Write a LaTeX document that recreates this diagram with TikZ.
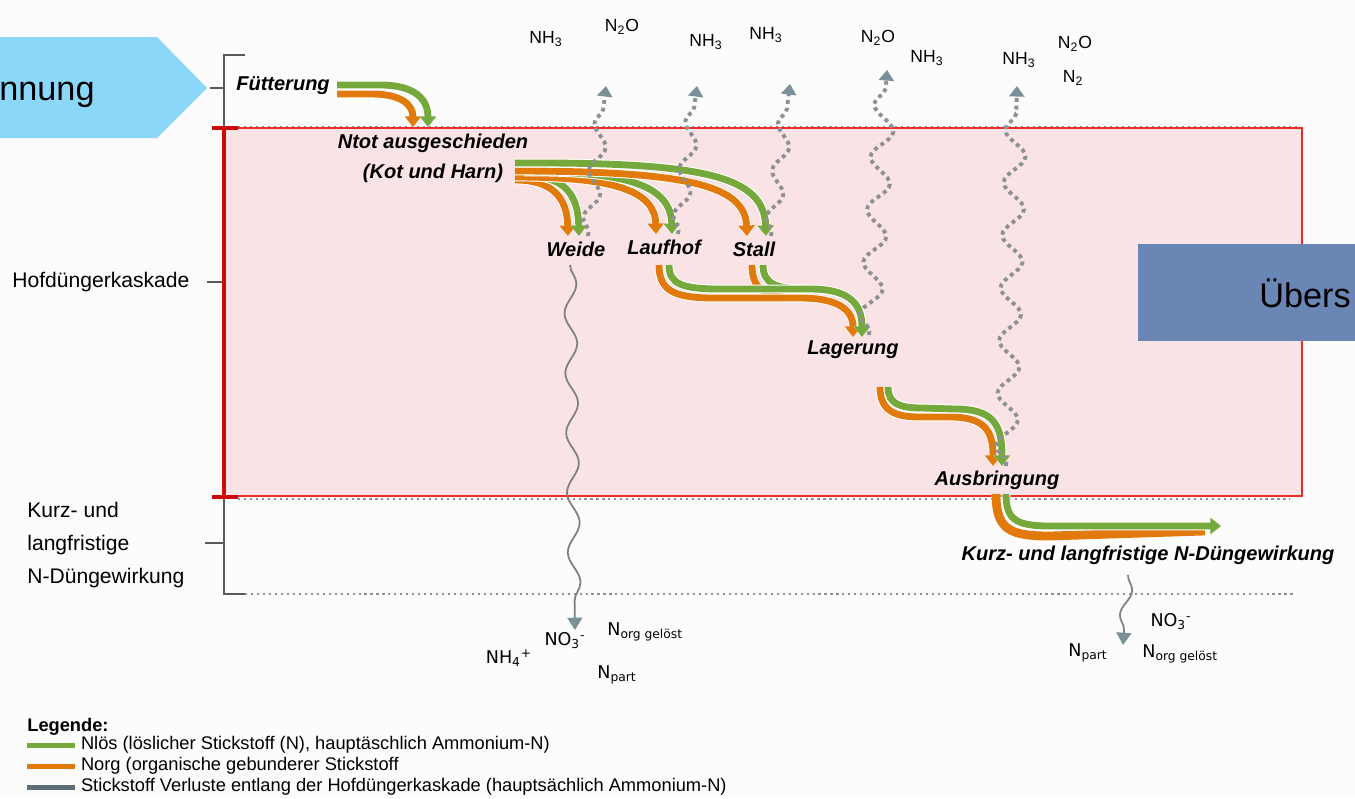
\documentclass[tikz,border=0pt]{standalone}
\usepackage{fontspec}
\setmainfont{Liberation Sans}
\newfontfamily\soilfont{DejaVu Sans}
\usetikzlibrary{positioning,arrows.meta,decorations.pathmorphing}
\definecolor{nloes}{HTML}{76A93B}
\definecolor{norg}{HTML}{E17A0A}
\definecolor{lossdot}{HTML}{8E9194}
\definecolor{losstip}{HTML}{7A9097}
\definecolor{legendgrey}{HTML}{5E6E76}
\definecolor{cascadefill}{HTML}{F9E3E5}
\definecolor{cascadeline}{HTML}{EE2B2B}
\definecolor{bracketred}{HTML}{CC0A0A}
\definecolor{skyblue}{HTML}{8BD7FA}
\definecolor{slateblue}{HTML}{6A86B4}
\definecolor{paper}{HTML}{FCFCFC}
\definecolor{rulegrey}{HTML}{5A5A5A}

\begin{document}
\begin{tikzpicture}[x=0.02cm, y=-0.02cm,
    stage/.style={font=\fontsize{11.4}{17}\selectfont\bfseries\itshape, align=center, inner sep=0pt},
    side/.style={font=\fontsize{12}{18.7}\selectfont, align=left, inner sep=0pt},
    gas/.style={font=\fontsize{10}{12}\selectfont, inner sep=0pt},
    soil/.style={font=\soilfont\fontsize{10}{12}\selectfont, inner sep=0pt},
    legtext/.style={font=\fontsize{10.4}{12}\selectfont, inner sep=0pt, anchor=west},
    keybar/.style={minimum width=0.96cm, minimum height=0.1cm, inner sep=0pt},
    strand/.style={line width=3.9pt, preaction={draw=white, line width=5pt}},
    gflow/.style={strand, draw=nloes, -{Triangle[length=6pt,width=9pt]}},
    oflow/.style={strand, draw=norg, -{Triangle[length=6pt,width=9pt]}},
    gtrack/.style={strand, draw=nloes},
    otrack/.style={strand, draw=norg},
    loss/.style={draw=lossdot, line width=2.2pt, dash pattern=on 2.2pt off 2.2pt,
      decorate, decoration={snake, amplitude=4pt, segment length=27pt, pre length=2pt, post length=7pt},
      -{Triangle[length=6pt,width=8.5pt,color=losstip]}},
    leach/.style={draw=gray, line width=1pt, decorate,
      decoration={snake, amplitude=3.5pt, segment length=34pt, post length=9pt},
      -{Triangle[length=7pt,width=8.5pt,color=losstip]}}
  ]
  \clip (0,0) rectangle (1355,798);
  \fill[paper] (0,0) rectangle (1355,798);

  % left and right tabs
  \fill[skyblue] (-10,37) -- (157,37) -- (207,88) -- (157,138) -- (-10,138) -- cycle;
  \node[anchor=base west, font=\fontsize{19.5}{22}\selectfont, inner sep=0pt] (plan) at (-1,100) {nnung};

  % grey bracket and dotted levels
  \draw[rulegrey, line width=0.8pt] (245,55) -- (224,55) -- (224,594) -- (245,594);
  \draw[rulegrey, line width=0.8pt] (210,88) -- (224,88);
  \draw[rulegrey, line width=0.8pt] (207,282) -- (224,282);
  \draw[rulegrey, line width=0.8pt] (205,543) -- (224,543);
  \draw[lossdot, line width=0.9pt, dash pattern=on 1.2pt off 2.2pt] (238,127) -- (1300,127);
  \draw[lossdot, line width=0.9pt, dash pattern=on 1.2pt off 2.2pt] (238,499) -- (1290,499);
  \draw[lossdot, line width=0.9pt, dash pattern=on 1.2pt off 2.2pt] (245,594) -- (1295,594);

  % cascade box
  \filldraw[fill=cascadefill, draw=cascadeline, line width=0.8pt] (224,128) rectangle (1302,496);
  \draw[bracketred, line width=2pt] (224,128) -- (224,497);
  \draw[bracketred, line width=2pt] (212,128) -- (238,128);
  \draw[bracketred, line width=2pt] (212,497) -- (238,497);

  \fill[slateblue] (1138,244) rectangle (1365,341);
  \node[anchor=base west, font=\fontsize{19.5}{22}\selectfont, inner sep=0pt] (uebers) at (1259,307) {Übers};

  % side labels
  \node[side, anchor=west] (cascade) at (12,282) {Hofdüngerkaskade};
  \node[side, anchor=west] (effect) at (27,545) {Kurz- und\\langfristige\\N-Düngewirkung};

  % stages
  \node[stage] (fuetter) at (283,86) {Fütterung};
  \node[stage] (ntot) at (433,158) {Ntot ausgeschieden\\(Kot und Harn)};
  \node[stage] (weide) at (576,249) {Weide};
  \node[stage] (laufhof) at (664,247) {Laufhof};
  \node[stage] (stall) at (754,249) {Stall};
  \node[stage] (lager) at (853,350) {Lagerung};
  \node[stage] (ausbr) at (997,480) {Ausbringung};
  \node[stage] (wirkung) at (1148,555) {Kurz- und langfristige N-Düngewirkung};

  % gases
  \node[gas] (g1) at (546,39) {NH\textsubscript{3}};
  \node[gas] (g2) at (622,27) {N\textsubscript{2}O};
  \node[gas] (g3) at (706,42) {NH\textsubscript{3}};
  \node[gas] (g4) at (766,35) {NH\textsubscript{3}};
  \node[gas] (g5) at (878,38) {N\textsubscript{2}O};
  \node[gas] (g6) at (927,58) {NH\textsubscript{3}};
  \node[gas] (g7) at (1019,60) {NH\textsubscript{3}};
  \node[gas] (g8) at (1075,44) {N\textsubscript{2}O};
  \node[gas] (g9) at (1073,78) {N\textsubscript{2}};

  % leached forms
  \node[soil] (s1) at (509,658) {NH\textsubscript{4}\textsuperscript{+}};
  \node[soil] (s2) at (565,641) {NO\textsubscript{3}\textsuperscript{-}};
  \node[soil, anchor=west] (s3) at (607,632) {N\textsubscript{org gelöst}};
  \node[soil, anchor=west] (s4) at (597,675) {N\textsubscript{part}};
  \node[soil] (s5) at (1171,622) {NO\textsubscript{3}\textsuperscript{-}};
  \node[soil, anchor=west] (s6) at (1068,653) {N\textsubscript{part}};
  \node[soil, anchor=west] (s7) at (1142,654) {N\textsubscript{org gelöst}};

  % flow end points
  \coordinate (fo0) at (337,94);  \coordinate (fo1) at (413,127);
  \coordinate (fg0) at (337,85);  \coordinate (fg1) at (428,127);
  \coordinate (wo1) at (568,236); \coordinate (wg1) at (579,236);
  \coordinate (lo1) at (656,234); \coordinate (lg1) at (672,234);
  \coordinate (so1) at (747,236); \coordinate (sg1) at (766,236);
  \coordinate (ao1) at (853,337); \coordinate (ag1) at (862,337);
  \coordinate (bo1) at (993,466); \coordinate (bg1) at (1002,466);
  \coordinate (kg1) at (1221,526);

  % Fuetterung -> Ntot
  \draw[oflow] (fo0) -- (372,94) .. controls (400,94) and (413,104) .. (fo1);
  \draw[gflow] (fg0) -- (380,85) .. controls (416,85) and (428,100) .. (fg1);

  % Ntot -> Weide, Laufhof, Stall
  \draw[oflow] (515,180) .. controls (552,180) and (567,197) .. (wo1);
  \draw[gflow] (526,176) .. controls (564,176) and (578,194) .. (wg1);
  \draw[oflow] (515,177) .. controls (615,177) and (655,191) .. (lo1);
  \draw[gflow] (524,172) .. controls (628,171) and (671,186) .. (lg1);
  \draw[oflow] (515,171) .. controls (690,171) and (745,186) .. (so1);
  \draw[gflow] (515,163) .. controls (705,162) and (764,176) .. (sg1);

  % Laufhof, Stall -> Lagerung
  \draw[otrack] (752,265) .. controls (752,287) and (762,297) .. (795,298);
  \draw[gtrack] (763,265) .. controls (763,283) and (775,289) .. (805,289);
  \draw[oflow] (659,265) .. controls (659,292) and (676,298) .. (715,298) -- (800,298)
    .. controls (840,298) and (853,311) .. (ao1);
  \draw[gflow] (669,265) .. controls (669,284) and (682,289) .. (720,289) -- (810,289)
    .. controls (851,289) and (862,305) .. (ag1);

  % Lagerung -> Ausbringung
  \draw[oflow] (880,387) .. controls (880,411) and (895,417) .. (920,417) -- (950,417)
    .. controls (985,417) and (993,431) .. (bo1);
  \draw[gflow] (888,387) .. controls (888,404) and (900,408) .. (922,408) -- (955,409)
    .. controls (994,409) and (1002,425) .. (bg1);

  % Ausbringung -> Wirkung
  \draw[otrack, line width=5pt] (996,494) .. controls (996,530) and (1010,536) .. (1050,536) -- (1205,531);
  \draw[gflow] (1006,494) .. controls (1006,519) and (1015,526) .. (1050,526) -- (kg1);

  % gaseous losses
  \draw[loss] (588,236) -- (606,86);
  \draw[loss] (678,234) -- (697,86);
  \draw[loss] (771,236) -- (790,84);
  \draw[loss, decoration={amplitude=6pt, segment length=30pt}] (869,335) -- (887,70);
  \draw[loss, decoration={amplitude=6pt, segment length=30pt}] (1006,466) -- (1017,86);

  % leaching
  \draw[leach] (570,265) -- (575,630);
  \draw[leach, decoration={amplitude=3pt, segment length=28pt, post length=8pt}] (1128,575) -- (1123,645);

  % legend
  \node[anchor=west, font=\fontsize{10.4}{12}\selectfont\bfseries, inner sep=0pt] (legtitle) at (27,727) {Legende:};
  \node[keybar, fill=nloes, anchor=west] (keyg) at (27,745) {};
  \node[keybar, fill=norg, anchor=west] (keyo) at (27,766) {};
  \node[keybar, fill=legendgrey, anchor=west] (keyl) at (27,787) {};
  \node[legtext, right=0.1cm of keyg] (legg) {Nlös (löslicher Stickstoff (N), hauptäschlich Ammonium-N)};
  \node[legtext, right=0.1cm of keyo] (lego) {Norg (organische gebunderer Stickstoff};
  \node[legtext, right=0.1cm of keyl] (legl) {Stickstoff Verluste entlang der Hofdüngerkaskade (hauptsächlich Ammonium-N)};
\end{tikzpicture}
\end{document}
